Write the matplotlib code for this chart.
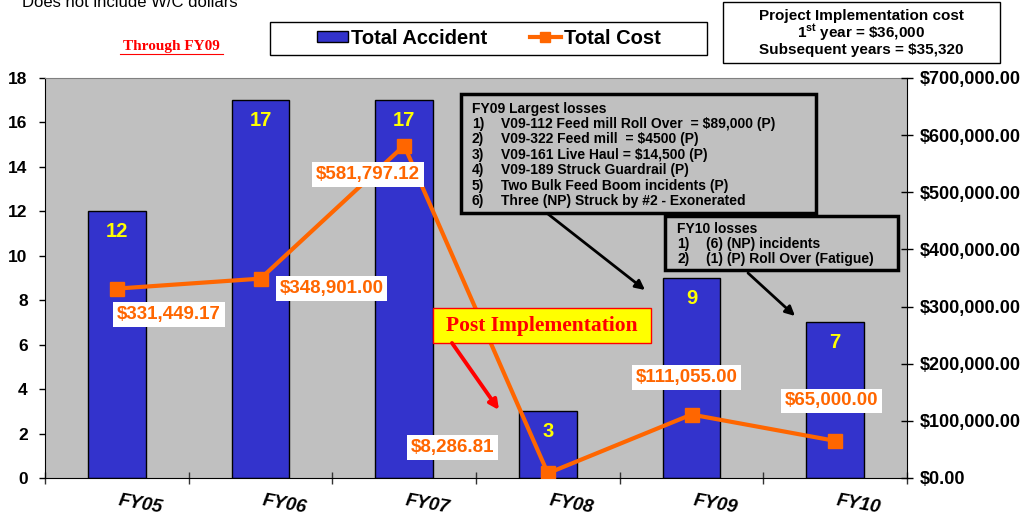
import matplotlib
matplotlib.use("Agg")
import matplotlib.pyplot as plt
from matplotlib.patches import Rectangle, Patch, FancyArrowPatch
from matplotlib.lines import Line2D

# data
years = ["FY05", "FY06", "FY07", "FY08", "FY09", "FY10"]
accidents = [12, 17, 17, 3, 9, 7]
costs = [331449.17, 348901.00, 581797.12, 8286.81, 111055.00, 65000.00]

fy09_title = "FY09 Largest losses"
fy09_items = [
    "V09-112 Feed mill Roll Over  = \\$89,000 (P)",
    "V09-322 Feed mill  = \\$4500 (P)",
    "V09-161 Live Haul = \\$14,500 (P)",
    "V09-189 Struck Guardrail (P)",
    "Two Bulk Feed Boom incidents (P)",
    "Three (NP) Struck by #2 - Exonerated",
]
fy10_title = "FY10 losses"
fy10_items = ["(6) (NP) incidents", "(1) (P) Roll Over (Fatigue)"]

BLUE = "#3333CC"
ORANGE = "#FF6600"
GRAY = "#C0C0C0"

plt.rcParams["font.family"] = ["Liberation Sans", "DejaVu Sans"]
plt.rcParams["mathtext.fontset"] = "custom"
plt.rcParams["mathtext.rm"] = "Liberation Sans:weight=bold"
plt.rcParams["mathtext.bf"] = "Liberation Sans:weight=bold"
plt.rcParams["mathtext.default"] = "bf"

W, H = 1027, 516
fig = plt.figure(figsize=(W / 100, H / 100), dpi=100)


def fx(x):
    return x / W


def fy(y):
    return 1 - y / H


ax = fig.add_axes([fx(45), fy(478), (907 - 45) / W, 400 / H])
ax.set_facecolor(GRAY)
xs = list(range(len(years)))
ax.bar(xs, accidents, width=0.4, color=BLUE, edgecolor="black", linewidth=1, zorder=2)
ax.set_xlim(-0.5, len(years) - 0.5)
ax.set_ylim(0, 18)
ax.set_yticks(range(0, 19, 2))
ax.tick_params(axis="y", direction="out", length=4.5, width=1, pad=8, labelsize=12.5)
for lab in ax.get_yticklabels():
    lab.set_fontweight("bold")

# ticks at category boundaries, labels at centres
ax.set_xticks([i - 0.5 for i in range(len(years) + 1)])
ax.set_xticklabels([])
ax.tick_params(axis="x", which="major", direction="inout", length=8, width=1, color="#333333")
ax.set_xticks(xs, minor=True)
ax.set_xticklabels(years, minor=True, rotation=-10, fontsize=13.5, ha="left",
                   fontweight="bold", fontstyle="italic")
ax.tick_params(axis="x", which="minor", length=0, pad=10)

ax.spines["top"].set_color("#808080")
ax.spines["right"].set_visible(False)

for i, v in enumerate(accidents):
    ax.annotate(str(v), xy=(i, v), xytext=(0, -20), textcoords="offset pixels",
                ha="center", va="center", color="yellow", fontsize=14.5,
                fontweight="bold", zorder=3)

ax2 = ax.twinx()
ax2.set_ylim(0, 700000)
ax2.set_yticks(range(0, 700001, 100000))
ax2.set_yticklabels(["${:,.2f}".format(t) for t in range(0, 700001, 100000)],
                    fontsize=13, fontweight="bold")
ax2.tick_params(axis="y", direction="inout", length=8, width=1, pad=5)
for s in ["top", "left", "bottom"]:
    ax2.spines[s].set_visible(False)
ax2.plot(xs, costs, color=ORANGE, lw=3, marker="s", markersize=9.5, zorder=4)

label_offsets = [(52, -26), (71, -10), (-36, -29), (-95, 26), (-5, 37), (-4, 40)]
for i, (v, off) in enumerate(zip(costs, label_offsets)):
    ax2.annotate("${:,.2f}".format(v), xy=(i, v), xytext=off, textcoords="offset pixels",
                 ha="center", va="center", color=ORANGE, fontsize=13.5, fontweight="bold",
                 bbox=dict(boxstyle="square,pad=0.2", fc="white", ec="none"), zorder=5)

# legend
fig.add_artist(Rectangle((fx(270), fy(55)), (707 - 270) / W, 33 / H, transform=fig.transFigure,
                         fc="white", ec="black", lw=1))
handles = [Patch(fc=BLUE, ec="black", lw=1),
           Line2D([], [], color=ORANGE, lw=3, marker="s", markersize=7)]
fig.legend(handles, ["Total Accident", "Total Cost"], loc="center",
           bbox_to_anchor=(fx(489), fy(38)), ncol=2, frameon=False,
           prop=dict(size=14.5, weight="bold"), handlelength=1.55, handleheight=0.5,
           handletextpad=0.15, columnspacing=2.1)

fig.text(fx(22), fy(7), "Does not include W/C dollars", fontsize=12, va="baseline")

fig.text(fx(171), fy(47), "Through FY09", family=["Liberation Serif"], color="red",
         fontsize=11, fontweight="bold", ha="center", va="center")
fig.add_artist(Line2D([fx(120), fx(223)], [fy(54), fy(54)], color="red", lw=0.8))

# project cost box
fig.add_artist(Rectangle((fx(723), fy(63)), (1000 - 723) / W, 61 / H, transform=fig.transFigure,
                         fc="white", ec="black", lw=1))
fig.text(fx(861), fy(16), "Project Implementation cost", ha="center", va="center",
         fontsize=11, fontweight="bold")
fig.text(fx(861), fy(33), r"$\mathbf{1^{st}}$ year = \$36,000", ha="center", va="center",
         fontsize=11, fontweight="bold")
fig.text(fx(861), fy(50), "Subsequent years = \\$35,320", ha="center", va="center",
         fontsize=11, fontweight="bold")

# FY09 losses box
fig.add_artist(Rectangle((fx(461), fy(213)), (816 - 461) / W, (213 - 94) / H,
                         transform=fig.transFigure, fc=GRAY, ec="black", lw=2.5))
fig.text(fx(472), fy(109), fy09_title, va="center", fontsize=10, fontweight="bold")
for k, item in enumerate(fy09_items):
    y = 124 + k * 15.4
    fig.text(fx(472), fy(y), "%d)" % (k + 1), va="center", fontsize=10, fontweight="bold")
    fig.text(fx(501), fy(y), item, va="center", fontsize=10, fontweight="bold")

# FY10 losses box
fig.add_artist(Rectangle((fx(665), fy(270)), (898 - 665) / W, (270 - 216) / H,
                         transform=fig.transFigure, fc=GRAY, ec="black", lw=2.5))
fig.text(fx(677), fy(229), fy10_title, va="center", fontsize=10, fontweight="bold")
for k, item in enumerate(fy10_items):
    y = 244 + k * 15
    fig.text(fx(677), fy(y), "%d)" % (k + 1), va="center", fontsize=10, fontweight="bold")
    fig.text(fx(706), fy(y), item, va="center", fontsize=10, fontweight="bold")

# post implementation note
fig.add_artist(Rectangle((fx(433), fy(343)), (651 - 433) / W, 35 / H, transform=fig.transFigure,
                         fc="yellow", ec="red", lw=1))
fig.text(fx(542), fy(326), "Post Implementation", family=["Liberation Serif"], color="red",
         fontsize=15.5, fontweight="bold", ha="center", va="center")

# arrows
for (x0, y0), (x1, y1), c, lw in [((548, 214), (645, 290), "black", 2),
                                  ((748, 273), (795, 316), "black", 2),
                                  ((452, 343), (499, 410), "red", 2.8)]:
    fig.add_artist(FancyArrowPatch((fx(x0), fy(y0)), (fx(x1), fy(y1)),
                                   transform=fig.transFigure, arrowstyle="-|>",
                                   mutation_scale=14, color=c, lw=lw, shrinkA=0, shrinkB=0))

fig.savefig("out.png", dpi=100)
